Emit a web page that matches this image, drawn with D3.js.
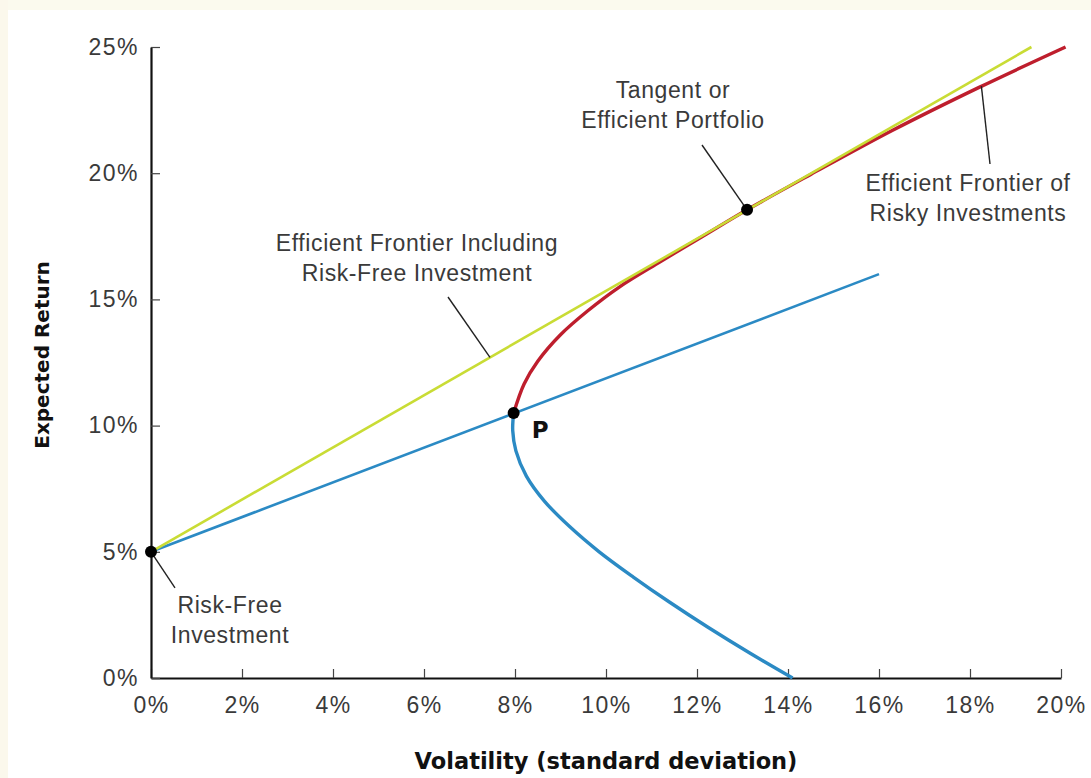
<!DOCTYPE html>
<html>
<head>
<meta charset="utf-8">
<script src="https://cdn.jsdelivr.net/npm/d3@7"></script>
<style>
  html, body { margin: 0; padding: 0; background: #fff; }
  svg { display: block; }
</style>
</head>
<body>
<div id="chart"></div>
<script>
// Axis ticks (percent).
const xTicks = [0, 2, 4, 6, 8, 10, 12, 14, 16, 18, 20];
const yTicks = [0, 5, 10, 15, 20, 25];

// Efficient frontier of risky investments, [volatility, return] in %.
// Lower (inefficient) part, drawn in blue, from the x-axis up to P.
const frontierLower = [
  [14.1, 0], [13.15, 1], [12.25, 2], [11.4, 3], [10.6, 4], [9.85, 5],
  [9.2, 6], [8.65, 7], [8.25, 8], [8.02, 9], [7.95, 9.8], [7.97, 10.5]
];
// Upper (efficient) part, drawn in red, from P to the top.
const frontierUpper = [
  [7.97, 10.5], [8.2, 11.65], [8.5, 12.55], [9.0, 13.6], [9.6, 14.55],
  [10.3, 15.5], [11.2, 16.5], [12.1, 17.47], [13.1, 18.55], [14.5, 19.95],
  [16.3, 21.7], [18.2, 23.4], [20.1, 25.0]
];

// Straight lines from the risk-free asset.
const riskFreeLine = [[0, 5], [19.35, 25]];   // through tangent portfolio
const portfolioPLine = [[0, 5], [16, 16]];    // through P

// Marked points.
const riskFree = [0, 5];
const pointP = [7.97, 10.5];
const tangent = [13.1, 18.55];

const width = 1091, height = 778;
const svg = d3.select("#chart").append("svg")
  .attr("width", width)
  .attr("height", height);

// faint scan tint along the edges
svg.append("rect").attr("x", 0).attr("y", 0).attr("width", width).attr("height", 10).attr("fill", "#fbfaee");
svg.append("rect").attr("x", 0).attr("y", 0).attr("width", 8).attr("height", height).attr("fill", "#fbf8ec");

const x = d3.scaleLinear().domain([0, 20]).range([151, 1061]);
const y = d3.scaleLinear().domain([0, 25]).range([678, 47]);

const lightFont = "'Liberation Sans', Arial, sans-serif";
const boldFont = "'DejaVu Sans', Arial, sans-serif";

// Axes (ticks point inward)
const xAxis = svg.append("g")
  .attr("transform", `translate(0,${y(0)})`)
  .call(d3.axisBottom(x).tickValues(xTicks).tickSize(-9).tickPadding(19).tickSizeOuter(0).tickFormat(d => d + "%"));
xAxis.select(".domain").attr("stroke", "#111").attr("stroke-width", 2.2);
xAxis.selectAll(".tick line").attr("stroke", "#444").attr("stroke-width", 1.2);
xAxis.selectAll("text")
  .attr("font-family", lightFont).attr("font-size", 23).attr("fill", "#3a3a3a")
  .attr("letter-spacing", "1.5px");

const yAxis = svg.append("g")
  .attr("transform", `translate(${x(0)},0)`)
  .call(d3.axisLeft(y).tickValues(yTicks).tickSize(-9).tickPadding(12).tickSizeOuter(0).tickFormat(d => d + "%"));
yAxis.select(".domain").attr("stroke", "#111").attr("stroke-width", 2.2);
yAxis.selectAll(".tick line").attr("stroke", "#444").attr("stroke-width", 1.2);
yAxis.selectAll("text")
  .attr("font-family", lightFont).attr("font-size", 23).attr("fill", "#3a3a3a")
  .attr("letter-spacing", "1.5px");

// Lines
const line = d3.line().x(d => x(d[0])).y(d => y(d[1]));
const curve = d3.line().x(d => x(d[0])).y(d => y(d[1])).curve(d3.curveCatmullRom.alpha(0.5));

svg.append("path").datum(portfolioPLine).attr("d", line)
  .attr("fill", "none").attr("stroke", "#2b8ac4").attr("stroke-width", 2.6);
svg.append("path").datum(frontierLower).attr("d", curve)
  .attr("fill", "none").attr("stroke", "#2b8ac4").attr("stroke-width", 3.4);
svg.append("path").datum(frontierUpper).attr("d", curve)
  .attr("fill", "none").attr("stroke", "#be1e2d").attr("stroke-width", 3.4);
svg.append("path").datum(riskFreeLine).attr("d", line)
  .attr("fill", "none").attr("stroke", "#c9dc35").attr("stroke-width", 2.6);

// Pointer lines for annotations
const pointers = [
  { from: [x(riskFree[0]) + 24, y(riskFree[1]) + 36], to: riskFree },
  { from: [448, 297], to: [7.45, 12.7] },
  { from: [702, 145], to: tangent },
  { from: [990, 164], to: [18.25, 23.45] }
];
svg.selectAll("line.pointer").data(pointers).enter().append("line")
  .attr("class", "pointer")
  .attr("x1", d => d.from[0]).attr("y1", d => d.from[1])
  .attr("x2", d => x(d.to[0])).attr("y2", d => y(d.to[1]))
  .attr("stroke", "#222").attr("stroke-width", 1.4);

// Dots
svg.selectAll("circle.dot").data([riskFree, pointP, tangent]).enter().append("circle")
  .attr("class", "dot")
  .attr("cx", d => x(d[0])).attr("cy", d => y(d[1]))
  .attr("r", 6).attr("fill", "#000");

// Annotation text
const notes = [
  { x: 673, y: 98, lines: ["Tangent or", "Efficient Portfolio"] },
  { x: 968, y: 191, lines: ["Efficient Frontier of", "Risky Investments"] },
  { x: 417, y: 251, lines: ["Efficient Frontier Including", "Risk-Free Investment"] },
  { x: 230, y: 613, lines: ["Risk-Free", "Investment"] }
];
notes.forEach(n => {
  const t = svg.append("text")
    .attr("x", n.x).attr("y", n.y)
    .attr("text-anchor", "middle")
    .attr("font-family", lightFont).attr("font-size", 23).attr("fill", "#3a3a3a")
    .attr("letter-spacing", "0.6px");
  n.lines.forEach((s, i) => {
    t.append("tspan").attr("x", n.x).attr("dy", i === 0 ? 0 : 30).text(s);
  });
});

svg.append("text")
  .attr("x", x(pointP[0]) + 18).attr("y", y(pointP[1]) + 25)
  .attr("font-family", boldFont).attr("font-weight", "bold")
  .attr("font-size", 23).attr("fill", "#111").text("P");

// Axis titles
svg.append("text")
  .attr("x", 606).attr("y", 769)
  .attr("text-anchor", "middle")
  .attr("font-family", boldFont).attr("font-weight", "bold")
  .attr("font-size", 22.5).attr("fill", "#111")
  .text("Volatility (standard deviation)");

svg.append("text")
  .attr("transform", "translate(49,355) rotate(-90)")
  .attr("text-anchor", "middle")
  .attr("font-family", boldFont).attr("font-weight", "bold")
  .attr("font-size", 20).attr("fill", "#111")
  .text("Expected Return");
</script>
</body>
</html>
